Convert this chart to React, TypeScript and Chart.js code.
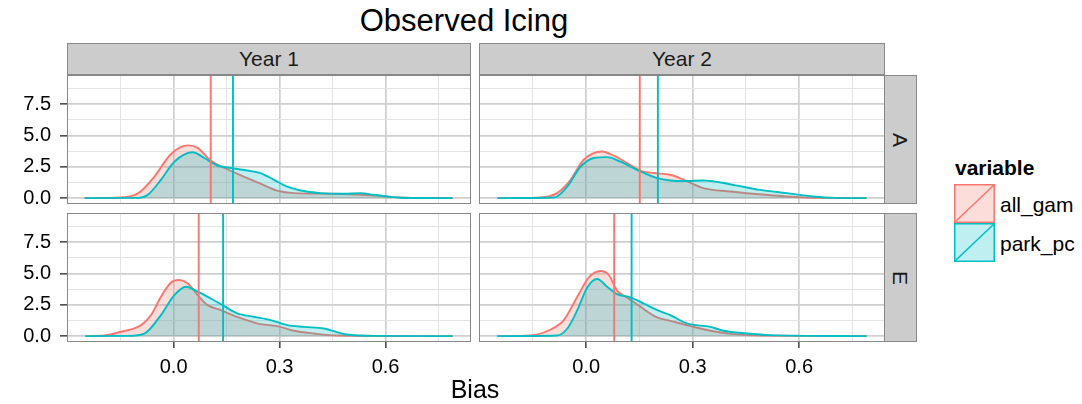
import React, { useEffect, useRef } from 'react';
import { Chart, registerables } from 'chart.js';

Chart.register(...registerables);

const FONT = '"Liberation Sans", Arial, Helvetica, sans-serif';

// ---- Data ----
const SERIES = ['all_gam', 'park_pc'];
const YEARS = ['Year 1', 'Year 2'];
const ROWS = ['A', 'E'];

const Y1A_ALL_X = [-0.252, -0.149, -0.1, -0.055, -0.008, 0.04, 0.068, 0.105, 0.152, 0.2, 0.246, 0.293, 0.34, 0.435, 0.53, 0.576, 0.62, 0.7, 0.79];
const Y1A_ALL_Y = [0, 0.05, 0.4, 1.7, 3.5, 4.2, 4.0, 3.0, 2.3, 1.7, 1.15, 0.6, 0.4, 0.35, 0.27, 0.2, 0.08, 0.01, 0];
const Y1A_PARK_X = [-0.252, -0.1, -0.073, -0.036, 0.002, 0.054, 0.087, 0.124, 0.162, 0.209, 0.246, 0.284, 0.32, 0.36, 0.416, 0.48, 0.53, 0.566, 0.62, 0.67, 0.79];
const Y1A_PARK_Y = [0, 0.02, 0.27, 1.46, 2.9, 3.65, 3.2, 2.6, 2.4, 2.2, 2.0, 1.46, 0.93, 0.61, 0.4, 0.35, 0.4, 0.27, 0.08, 0.01, 0];

const Y2A_ALL_X = [-0.25, -0.138, -0.082, -0.044, -0.007, 0.045, 0.078, 0.115, 0.153, 0.19, 0.237, 0.275, 0.33, 0.406, 0.47, 0.565, 0.66, 0.79];
const Y2A_ALL_Y = [0, 0.03, 0.4, 1.46, 3.06, 3.72, 3.38, 2.8, 2.18, 2.0, 1.86, 1.46, 0.8, 0.53, 0.35, 0.13, 0.02, 0];
const Y2A_PARK_X = [-0.25, -0.09, -0.053, -0.016, 0.022, 0.059, 0.097, 0.143, 0.2, 0.237, 0.284, 0.33, 0.378, 0.425, 0.49, 0.565, 0.64, 0.706, 0.79];
const Y2A_PARK_Y = [0, 0.05, 0.93, 2.5, 3.2, 3.27, 2.9, 2.26, 1.6, 1.41, 1.36, 1.41, 1.25, 1.0, 0.66, 0.4, 0.13, 0.02, 0];

const Y1E_ALL_X = [-0.25, -0.196, -0.149, -0.092, -0.064, -0.036, -0.008, 0.016, 0.04, 0.068, 0.096, 0.134, 0.18, 0.246, 0.293, 0.34, 0.397, 0.463, 0.79];
const Y1E_ALL_Y = [0, 0.05, 0.35, 0.88, 1.68, 3.14, 4.26, 4.47, 4.2, 3.27, 2.47, 2.07, 1.54, 0.96, 0.8, 0.43, 0.21, 0.05, 0];
const Y1E_PARK_X = [-0.25, -0.13, -0.083, -0.036, 0.002, 0.035, 0.068, 0.105, 0.143, 0.18, 0.228, 0.275, 0.322, 0.369, 0.425, 0.453, 0.49, 0.576, 0.79];
const Y1E_PARK_Y = [0, 0.02, 0.2, 1.68, 3.27, 3.94, 3.54, 3.0, 2.39, 1.81, 1.54, 1.28, 0.88, 0.74, 0.61, 0.4, 0.13, 0.02, 0];

const Y2E_ALL_X = [-0.25, -0.157, -0.1, -0.063, -0.025, 0.0075, 0.04, 0.064, 0.087, 0.115, 0.153, 0.2, 0.237, 0.294, 0.35, 0.415, 0.49, 0.79];
const Y2E_ALL_Y = [0, 0.05, 0.53, 1.28, 3.14, 4.68, 5.19, 4.87, 3.62, 3.09, 2.34, 1.49, 1.22, 0.8, 0.43, 0.16, 0.04, 0];
const Y2E_PARK_X = [-0.25, -0.082, -0.053, -0.025, 0.003, 0.031, 0.059, 0.087, 0.125, 0.162, 0.2, 0.237, 0.284, 0.35, 0.387, 0.453, 0.518, 0.79];
const Y2E_PARK_Y = [0, 0.05, 0.61, 2.07, 3.88, 4.55, 3.94, 3.35, 3.09, 2.6, 2.07, 1.68, 1.01, 0.74, 0.43, 0.21, 0.08, 0];

// mean lines per panel: [Year1 A, Year2 A, Year1 E, Year2 E]
const VLINE_ALL = [0.105, 0.151, 0.071, 0.079];
const VLINE_PARK = [0.168, 0.202, 0.14, 0.128];

const X_MAJOR = [0, 0.3, 0.6];
const X_GRID = [-0.15, 0, 0.15, 0.3, 0.45, 0.6, 0.75];
const Y_MAJOR = [0, 2.5, 5, 7.5];
const Y_GRID = [0, 1.25, 2.5, 3.75, 5, 6.25, 7.5, 8.75];
const X_MIN = -0.302;
const X_MAX = 0.842;
const Y_MIN = -0.467;
const Y_MAX = 9.81;

const PANELS = [
  { ax: Y1A_ALL_X, ay: Y1A_ALL_Y, px: Y1A_PARK_X, py: Y1A_PARK_Y },
  { ax: Y2A_ALL_X, ay: Y2A_ALL_Y, px: Y2A_PARK_X, py: Y2A_PARK_Y },
  { ax: Y1E_ALL_X, ay: Y1E_ALL_Y, px: Y1E_PARK_X, py: Y1E_PARK_Y },
  { ax: Y2E_ALL_X, ay: Y2E_ALL_Y, px: Y2E_PARK_X, py: Y2E_PARK_Y },
];

// ---- Style ----
const RED = '#F8766D';
const CYAN = '#00BFC4';
const RED_FILL = 'rgba(248,118,109,0.25)';
const CYAN_FILL = 'rgba(0,191,196,0.25)';
const BORDER = '#888888';
const STRIP_BG = '#cccccc';
const GRID_MAJOR = '#cfcfcf';
const GRID_MINOR = '#e4e4e4';
const LINE_W = 1.9;

const borderPlugin = {
  id: 'panelBorder',
  afterDraw(chart: any) {
    const { ctx, chartArea: a } = chart;
    ctx.save();
    ctx.strokeStyle = BORDER;
    ctx.lineWidth = 1;
    ctx.strokeRect(a.left + 0.5, a.top + 0.5, a.right - a.left - 1, a.bottom - a.top - 1);
    ctx.restore();
  },
};

function zeroPad(s: any) {
  s.paddingTop = 0;
  s.paddingBottom = 0;
  s.paddingLeft = 0;
  s.paddingRight = 0;
}

function pts(xs: number[], ys: number[]) {
  return xs.map((x, i) => ({ x, y: ys[i] }));
}

function Panel(props: { idx: number; left: number; top: number; width: number; height: number; showX: boolean; showY: boolean }) {
  const { idx, left, top, width, height, showX, showY } = props;
  const ref = useRef<HTMLCanvasElement>(null);
  useEffect(() => {
    const p = PANELS[idx];
    const isMajorX = (v: number) => X_MAJOR.some((m) => Math.abs(m - v) < 1e-9);
    const isMajorY = (v: number) => Y_MAJOR.some((m) => Math.abs(m - v) < 1e-9);
    const chart = new Chart(ref.current as HTMLCanvasElement, {
      type: 'line',
      data: {
        datasets: [
          {
            label: SERIES[0],
            data: pts(p.ax, p.ay),
            borderColor: RED,
            backgroundColor: RED_FILL,
            fill: 'origin',
            borderWidth: LINE_W,
            pointRadius: 0,
            cubicInterpolationMode: 'monotone',
            order: 3,
          },
          {
            label: SERIES[1],
            data: pts(p.px, p.py),
            borderColor: CYAN,
            backgroundColor: CYAN_FILL,
            fill: 'origin',
            borderWidth: LINE_W,
            pointRadius: 0,
            cubicInterpolationMode: 'monotone',
            order: 2,
          },
          {
            label: SERIES[0] + ' mean',
            data: [{ x: VLINE_ALL[idx], y: Y_MIN }, { x: VLINE_ALL[idx], y: Y_MAX }],
            borderColor: RED,
            borderWidth: LINE_W,
            pointRadius: 0,
            fill: false,
            order: 1,
          },
          {
            label: SERIES[1] + ' mean',
            data: [{ x: VLINE_PARK[idx], y: Y_MIN }, { x: VLINE_PARK[idx], y: Y_MAX }],
            borderColor: CYAN,
            borderWidth: LINE_W,
            pointRadius: 0,
            fill: false,
            order: 0,
          },
        ],
      } as any,
      options: {
        animation: false,
        responsive: false,
        maintainAspectRatio: false,
        devicePixelRatio: 1,
        layout: { padding: 0, autoPadding: false } as any,
        plugins: {
          legend: { display: false },
          tooltip: { enabled: false },
          title: { display: false },
          filler: { drawTime: 'beforeDatasetDraw' } as any,
        },
        scales: {
          x: {
            type: 'linear',
            min: X_MIN,
            max: X_MAX,
            afterBuildTicks: (s: any) => {
              s.ticks = X_GRID.map((v) => ({ value: v }));
            },
            afterFit: (s: any) => {
              s.height = showX ? 40 : 0;
              zeroPad(s);
            },
            ticks: {
              display: showX,
              autoSkip: false,
              maxRotation: 0,
              padding: 7,
              color: '#000',
              font: { family: FONT, size: 20 },
              callback: (v: any) => (isMajorX(Number(v)) ? Number(v).toFixed(1) : ''),
            },
            grid: {
              color: (c: any) => (c.tick && isMajorX(c.tick.value) ? GRID_MAJOR : GRID_MINOR),
              lineWidth: (c: any) => (c.tick && isMajorX(c.tick.value) ? 1.7 : 1),
              drawTicks: showX,
              tickLength: 6,
              tickColor: (c: any) => (c.tick && isMajorX(c.tick.value) ? '#333' : 'rgba(0,0,0,0)'),
              tickWidth: 1.4,
            },
            border: { display: false },
          },
          y: {
            type: 'linear',
            min: Y_MIN,
            max: Y_MAX,
            afterBuildTicks: (s: any) => {
              s.ticks = Y_GRID.map((v) => ({ value: v }));
            },
            afterFit: (s: any) => {
              s.width = showY ? 67 : 0;
              zeroPad(s);
            },
            ticks: {
              display: showY,
              autoSkip: false,
              padding: 9,
              color: '#000',
              font: { family: FONT, size: 20 },
              callback: (v: any) => (isMajorY(Number(v)) ? Number(v).toFixed(1) : ''),
            },
            grid: {
              color: (c: any) => (c.tick && isMajorY(c.tick.value) ? GRID_MAJOR : GRID_MINOR),
              lineWidth: (c: any) => (c.tick && isMajorY(c.tick.value) ? 1.7 : 1),
              drawTicks: showY,
              tickLength: 7,
              tickColor: (c: any) => (c.tick && isMajorY(c.tick.value) ? '#333' : 'rgba(0,0,0,0)'),
              tickWidth: 1.4,
            },
            border: { display: false },
          },
        },
      } as any,
      plugins: [borderPlugin],
    });
    return () => chart.destroy();
  }, [idx, showX, showY]);
  return (
    <canvas
      ref={ref}
      width={width}
      height={height}
      style={{ position: 'absolute', left, top, width, height, display: 'block' }}
    />
  );
}

const stripBase: React.CSSProperties = {
  position: 'absolute',
  boxSizing: 'border-box',
  background: STRIP_BG,
  border: `1px solid ${BORDER}`,
  display: 'flex',
  alignItems: 'center',
  justifyContent: 'center',
  fontFamily: FONT,
  fontSize: 21,
  color: '#1a1a1a',
};

function LegendKey({ color, fill }: { color: string; fill: string }) {
  return (
    <svg width={41} height={39} style={{ display: 'block' }}>
      <rect x={0.75} y={0.75} width={39.5} height={37.5} fill={fill} stroke={color} strokeWidth={1.5} />
      <line x1={0.75} y1={38.25} x2={40.25} y2={0.75} stroke={color} strokeWidth={1.5} />
    </svg>
  );
}

export default function App() {
  return (
    <div style={{ position: 'fixed', left: 0, top: 0, width: 1082, height: 404, background: '#fff', overflow: 'hidden' }}>
      <div
        style={{
          position: 'absolute',
          left: 264,
          width: 400,
          top: 5,
          textAlign: 'center',
          fontFamily: FONT,
          fontSize: 31,
          lineHeight: 1,
          color: '#000',
        }}
      >
        Observed Icing
      </div>

      <div style={{ ...stripBase, left: 67, top: 43, width: 404, height: 32 }}>{YEARS[0]}</div>
      <div style={{ ...stripBase, left: 479, top: 43, width: 406, height: 32 }}>{YEARS[1]}</div>
      <div style={{ ...stripBase, left: 884, top: 75, width: 33, height: 129 }}>
        <span style={{ transform: 'rotate(90deg)', display: 'inline-block' }}>{ROWS[0]}</span>
      </div>
      <div style={{ ...stripBase, left: 884, top: 213, width: 33, height: 129 }}>
        <span style={{ transform: 'rotate(90deg)', display: 'inline-block' }}>{ROWS[1]}</span>
      </div>

      <Panel idx={0} left={0} top={75} width={471} height={129} showX={false} showY={true} />
      <Panel idx={1} left={479} top={75} width={406} height={129} showX={false} showY={false} />
      <Panel idx={2} left={0} top={213} width={471} height={169} showX={true} showY={true} />
      <Panel idx={3} left={479} top={213} width={406} height={169} showX={true} showY={false} />

      <div
        style={{
          position: 'absolute',
          left: 375,
          width: 200,
          top: 377,
          textAlign: 'center',
          fontFamily: FONT,
          fontSize: 25,
          lineHeight: 1,
          color: '#000',
        }}
      >
        Bias
      </div>

      <div
        style={{
          position: 'absolute',
          left: 955,
          top: 157,
          fontFamily: FONT,
          fontSize: 21,
          fontWeight: 'bold',
          lineHeight: 1,
          color: '#000',
        }}
      >
        variable
      </div>
      <div style={{ position: 'absolute', left: 954, top: 184 }}>
        <LegendKey color={RED} fill={RED_FILL} />
      </div>
      <div style={{ position: 'absolute', left: 954, top: 223 }}>
        <LegendKey color={CYAN} fill={CYAN_FILL} />
      </div>
      <div style={{ position: 'absolute', left: 1000, top: 194, fontFamily: FONT, fontSize: 21, lineHeight: 1, color: '#000' }}>
        {SERIES[0]}
      </div>
      <div style={{ position: 'absolute', left: 1000, top: 233, fontFamily: FONT, fontSize: 21, lineHeight: 1, color: '#000' }}>
        {SERIES[1]}
      </div>
    </div>
  );
}
